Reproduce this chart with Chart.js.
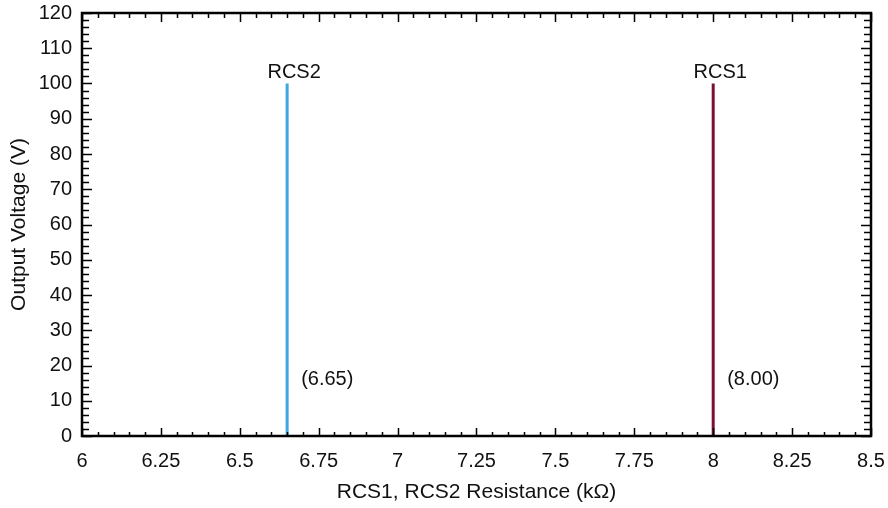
<!DOCTYPE html>
<html>
<head>
  <title>Output Voltage vs RCS Resistance</title>
  <script src="https://cdn.jsdelivr.net/npm/chart.js"></script>
  <style>
    html, body { margin: 0; padding: 0; background: #fff; }
    #wrap { width: 888px; height: 508px; }
  </style>
</head>
<body>
  <div id="wrap"><canvas id="chart" width="888" height="508"></canvas></div>

  <script>
    // resistor names and the resistance each one gives (kOhm)
    const names = ["RCS2", "RCS1"];
    const resistance = [6.65, 8.00];
    const valueLabels = ["(6.65)", "(8.00)"];
    // each marker runs from 0 V up to this voltage
    const lowVolt = [0, 0];
    const highVolt = [100, 100];
    const colors = ["#3ea6e3", "#7b1236"];

    const xMin = 6, xMax = 8.5, xStep = 0.25;
    const yMin = 0, yMax = 120, yStep = 10;

    const FONT = "'Liberation Sans', Arial, sans-serif";

    let datasets = names.map(function(n, i) {
      return {
        label: n,
        data: [{ x: resistance[i], y: lowVolt[i] }, { x: resistance[i], y: highVolt[i] }],
        borderColor: colors[i],
        borderWidth: 3,
        pointRadius: 0,
        showLine: true,
        fill: false
      };
    });

    // frame with inward major/minor ticks on all four sides
    const frameTicks = {
      id: "frameTicks",
      afterDraw(chart) {
        const ctx = chart.ctx;
        const a = chart.chartArea;
        const xs = chart.scales.x, ys = chart.scales.y;
        ctx.save();
        ctx.strokeStyle = "#000";
        ctx.lineWidth = 1.5;
        ctx.beginPath();
        let i = 0;
        for (let v = xMin; v <= xMax + 1e-9; v += xStep / 5, i++) {
          const px = Math.round(xs.getPixelForValue(v)) + 0.5;
          const major = i % 5 === 0;
          const lb = major ? 8 : 4, lt = major ? 9 : 5;
          ctx.moveTo(px, a.bottom); ctx.lineTo(px, a.bottom - lb);
          ctx.moveTo(px, a.top); ctx.lineTo(px, a.top + lt);
        }
        i = 0;
        for (let v = yMin; v <= yMax + 1e-9; v += yStep / 5, i++) {
          const py = Math.round(ys.getPixelForValue(v)) + 0.5;
          const major = i % 5 === 0;
          const l = major ? 10 : 7;
          ctx.moveTo(a.left, py); ctx.lineTo(a.left + l, py);
          ctx.moveTo(a.right, py); ctx.lineTo(a.right - l, py);
        }
        ctx.stroke();
        ctx.lineWidth = 2.5;
        ctx.strokeRect(a.left, a.top, a.right - a.left, a.bottom - a.top);
        ctx.restore();
      }
    };

    // name above each marker and its value next to it
    const markerText = {
      id: "markerText",
      afterDatasetsDraw(chart) {
        const ctx = chart.ctx;
        const xs = chart.scales.x, ys = chart.scales.y;
        ctx.save();
        ctx.fillStyle = "#111";
        ctx.font = "20px " + FONT;
        names.forEach(function(n, i) {
          const px = xs.getPixelForValue(resistance[i]);
          ctx.textAlign = "center";
          ctx.textBaseline = "alphabetic";
          ctx.fillText(n, px + 7, ys.getPixelForValue(highVolt[i]) - 6);
          ctx.textAlign = "left";
          ctx.textBaseline = "middle";
          ctx.fillText(valueLabels[i], px + 14, ys.getPixelForValue(16));
        });
        ctx.restore();
      }
    };

    new Chart(document.getElementById("chart"), {
      type: "scatter",
      data: { datasets: datasets },
      plugins: [frameTicks, markerText],
      options: {
        responsive: false,
        animation: false,
        layout: { padding: { top: 13, right: 17, left: 0, bottom: 0 } },
        plugins: { legend: { display: false }, tooltip: { enabled: false } },
        scales: {
          x: {
            type: "linear",
            min: xMin,
            max: xMax,
            grid: { display: false, drawTicks: false },
            border: { display: false },
            ticks: {
              stepSize: xStep,
              color: "#111",
              padding: 13,
              font: { family: FONT, size: 20 },
              callback: function(v) { return String(+v.toFixed(2)); }
            },
            title: {
              display: true,
              text: "RCS1, RCS2 Resistance (kΩ)",
              color: "#111",
              font: { family: FONT, size: 21 },
              padding: { top: 6, bottom: 3 }
            },
            afterFit: function(s) {
              s.height = 72;
              s.paddingLeft = 0;
              s.paddingRight = 0;
            }
          },
          y: {
            min: yMin,
            max: yMax,
            grid: { display: false, drawTicks: false },
            border: { display: false },
            ticks: {
              stepSize: yStep,
              color: "#111",
              padding: 10,
              font: { family: FONT, size: 20 }
            },
            title: {
              display: true,
              text: "Output Voltage (V)",
              color: "#111",
              font: { family: FONT, size: 21 },
              padding: { top: 7, bottom: 4 }
            },
            afterFit: function(s) {
              s.width = 82;
              s.paddingTop = 0;
              s.paddingBottom = 0;
            }
          }
        }
      }
    });
  </script>
</body>
</html>
